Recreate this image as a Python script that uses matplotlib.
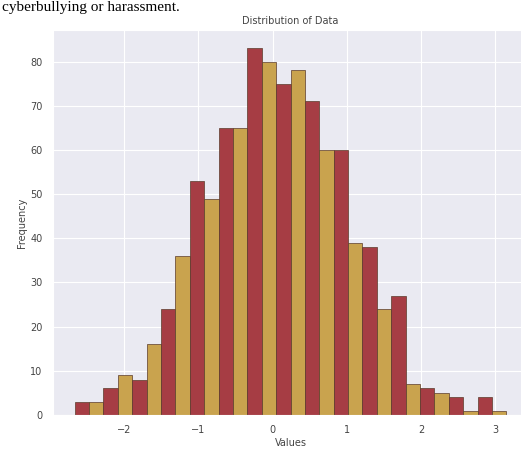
import numpy as np
import matplotlib
matplotlib.use("Agg")
import matplotlib.pyplot as plt
import seaborn as sns

# ===== data =====
BIN_START = -2.67
BIN_END   = 3.15
COUNTS = [3, 3, 6, 9, 8, 16, 24, 36, 53, 49,
          65, 65, 83, 80, 75, 78, 71, 60, 60, 39,
          38, 24, 27, 7, 6, 5, 4, 1, 4, 1]

TITLE   = "Distribution of Data"
XLABEL  = "Values"
YLABEL  = "Frequency"
DOC_TXT = "cyberbullying or harassment."

RED  = "#a63d44"
GOLD = "#c9a34e"

sns.set_style("darkgrid")
plt.rcParams["font.family"] = ["DejaVu Sans"]

fig = plt.figure(figsize=(5.21, 4.55), dpi=100)
ax = fig.add_axes([53 / 521, 40 / 455, 475 / 521, 385 / 455])

edges = np.linspace(BIN_START, BIN_END, len(COUNTS) + 1)
n, bins, patches = ax.hist(edges[:-1], bins=edges, weights=COUNTS,
                           edgecolor="#5a3a2a", linewidth=0.5)
for i, p in enumerate(patches):
    p.set_facecolor(RED if i % 2 == 0 else GOLD)

ax.set_title(TITLE, fontsize=7, color="#444444", pad=4)
ax.set_xlabel(XLABEL, fontsize=7, color="#444444", labelpad=2)
ax.set_ylabel(YLABEL, fontsize=7, color="#444444", labelpad=2)
ax.tick_params(labelsize=7, colors="#444444", pad=4)
ax.set_xticks([-2, -1, 0, 1, 2, 3])

# line of the surrounding document text above the chart
fig.text(0.004, 1 - 11 / 455, DOC_TXT, family="Liberation Serif",
         fontsize=11, va="baseline", ha="left", color="black")

fig.savefig("out.png", dpi=100)
plt.close(fig)
